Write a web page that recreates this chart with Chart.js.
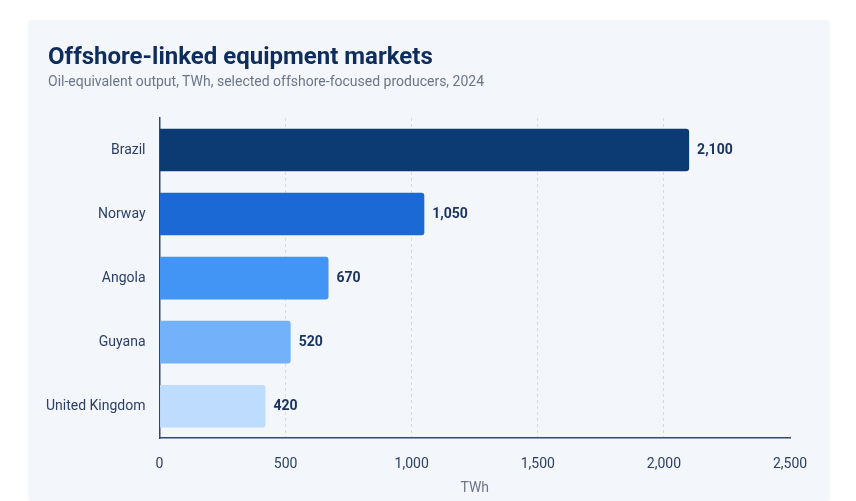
<!DOCTYPE html>
<html>
<head>
<meta charset="utf-8">
<script src="https://cdn.jsdelivr.net/npm/chart.js@4.4.1/dist/chart.umd.min.js"></script>
<style>
    html, body { margin: 0; padding: 0; background: #ffffff; }
    body { width: 856px; height: 501px; position: relative; overflow: hidden; font-family: Roboto, sans-serif; }
    #card {
        position: absolute; left: 28px; top: 20px; width: 802px; height: 481px;
        background: #f3f6fb; border-radius: 4px;
    }
    #chartOffshore { display: block; position: absolute; left: 0; top: 0; }
    .title {
        position: absolute; left: 20px; top: 22px; margin: 0;
        font-size: 24px; line-height: 29px; font-weight: bold; color: #0f2d5c;
    }
    .subtitle {
        position: absolute; left: 20px; top: 53px; margin: 0;
        font-size: 14px; line-height: 17px; color: #6b7688;
    }
</style>
</head>
<body>
<div id="card">
    <canvas id="chartOffshore" width="802" height="481"></canvas>
    <h1 class="title">Offshore-linked equipment markets</h1>
    <p class="subtitle">Oil-equivalent output, TWh, selected offshore-focused producers, 2024</p>
</div>
<script>
// Offshore producers, oil-equivalent output (TWh, 2024)
const countries = ['Brazil', 'Norway', 'Angola', 'Guyana', 'United Kingdom'];
const outputTwh = [2100, 1050, 670, 520, 420];
const barColors = ['#0c3a73', '#1a69d4', '#4295f4', '#73b2fa', '#bedcfd'];
const xTicks = [0, 500, 1000, 1500, 2000, 2500];

document.addEventListener('DOMContentLoaded', () => {
    Chart.defaults.font.family = "Roboto";

    // value labels to the right of each bar
    const valueLabels = {
        id: 'valueLabels',
        afterDatasetsDraw(chart) {
            const ctx = chart.ctx;
            const meta = chart.getDatasetMeta(0);
            ctx.save();
            ctx.font = 'bold 14px Roboto';
            ctx.fillStyle = '#1c3461';
            ctx.textAlign = 'left';
            ctx.textBaseline = 'middle';
            meta.data.forEach((bar, i) => {
                ctx.fillText(outputTwh[i].toLocaleString('en-US'), bar.x + 8, bar.y);
            });
            ctx.restore();
        }
    };

    new Chart('chartOffshore', {
        type: 'bar',
        data: {
            labels: countries,
            datasets: [{
                label: 'TWh',
                data: outputTwh,
                backgroundColor: barColors,
                borderRadius: 3,
                borderSkipped: 'start',
                barPercentage: 0.665,
                categoryPercentage: 1
            }]
        },
        options: {
            indexAxis: 'y',
            responsive: false,
            animation: false,
            layout: {
                padding: { left: 4, right: 40, top: 98, bottom: 6 }
            },
            scales: {
                x: {
                    min: 0,
                    max: 2500,
                    afterBuildTicks: axis => { axis.ticks = xTicks.map(v => ({ value: v })); },
                    grid: {
                        color: c => (c.tick && c.tick.value === 2500) ? 'rgba(0,0,0,0)' : '#d6dbe4',
                        lineWidth: 1,
                        drawTicks: false
                    },
                    border: { display: true, color: '#34466b', width: 1.5, dash: [3, 3] },
                    ticks: {
                        padding: 18,
                        color: '#2c3e66',
                        font: { size: 14 },
                        callback: v => v.toLocaleString('en-US')
                    },
                    title: {
                        display: true,
                        text: 'TWh',
                        color: '#6b7688',
                        font: { size: 14, lineHeight: 1 },
                        padding: { top: -10, bottom: 0 }
                    }
                },
                y: {
                    grid: { display: false, drawTicks: false },
                    border: { display: true, color: '#34466b', width: 1.5 },
                    ticks: {
                        padding: 14,
                        color: '#2c3e66',
                        font: { size: 14 }
                    }
                }
            },
            plugins: {
                legend: { display: false },
                tooltip: { enabled: false }
            }
        },
        plugins: [valueLabels]
    });
});
</script>
</body>
</html>
